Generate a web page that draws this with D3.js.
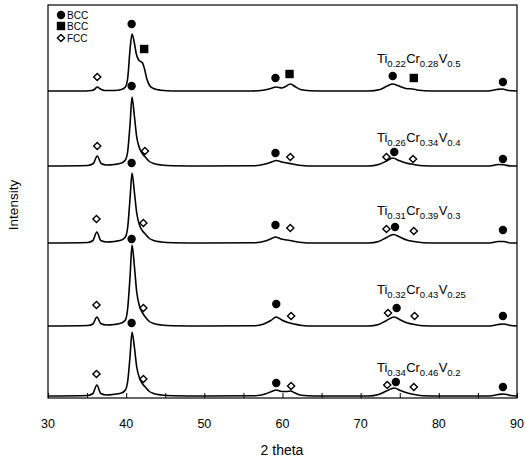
<!DOCTYPE html>
<html><head><meta charset="utf-8">
<script src="https://cdn.jsdelivr.net/npm/d3@7"></script>
<style>body{margin:0;background:#fff}svg{display:block}text{font-family:"Liberation Sans",Arial,sans-serif;fill:#000}</style>
</head><body>
<svg id="c" width="525" height="459"></svg>
<script>
// 2-theta tick labels
const xTicks = [30, 40, 50, 60, 70, 80, 90];
// vertical offsets of each pattern (arbitrary intensity units)
const offsets = [307, 232, 155, 72, 2];
// composition labels: [element, subscript] pairs
const labels = [
  [["Ti","0.22"],["Cr","0.28"],["V","0.5"]],
  [["Ti","0.26"],["Cr","0.34"],["V","0.4"]],
  [["Ti","0.31"],["Cr","0.39"],["V","0.3"]],
  [["Ti","0.32"],["Cr","0.43"],["V","0.25"]],
  [["Ti","0.34"],["Cr","0.46"],["V","0.2"]]
];
const labelLevel = [28, 24, 28, 32, 24]; // label baseline height above pattern baseline
// intensity patterns [2theta, intensity above baseline]
const pattern1 = [[30,0],[34,0],[35.6,0.5],[36.0,2],[36.3,4],[36.7,2],[37.2,0.5],[38.5,0.5],[39.4,1.5],[39.9,4],[40.2,13],[40.5,42],[40.75,57],[41.0,50],[41.3,37],[41.6,31],[41.85,29.5],[42.1,28],[42.35,22],[42.65,12],[43.0,5.5],[43.5,2.5],[44.4,0.8],[46,0],[56,0],[57.5,0.8],[58.5,2.5],[59.2,4],[59.9,3],[60.4,4.5],[61.0,7],[61.6,4.5],[62.3,1.5],[63.5,0.3],[66,0],[71,0],[72.5,1.5],[73.4,5],[74.1,7],[74.9,5],[75.8,2.5],[76.6,2],[77.4,0.8],[79,0],[86.3,0],[87.4,1.5],[88.1,2],[88.9,0.5],[90,0]];
const pattern2 = [[30,0],[35.1,0.5],[35.8,2.5],[36.3,10],[36.8,2.5],[37.5,1],[38.5,1.5],[39.4,3],[39.9,6],[40.2,15],[40.5,42],[40.75,69],[41.05,50],[41.35,29],[41.7,18],[42.1,12],[42.5,8.5],[42.9,5],[43.5,2.5],[44.5,1],[46,0.3],[50,0],[56.5,0.3],[57.8,2],[58.6,4],[59.2,5.5],[59.9,4],[60.6,3],[61.3,2],[62.5,0.5],[64,0],[71,0],[72.3,1.5],[73.3,5],[74.1,8],[74.9,5.5],[75.8,3],[76.8,1.5],[78,0.3],[80,0],[86.5,0],[87.6,1.5],[88.3,1.2],[89.2,0],[90,0]];
const pattern3 = [[30,0],[35.1,0.5],[35.75,2.5],[36.25,11],[36.75,2.5],[37.5,1],[38.5,1.5],[39.4,3],[39.9,6],[40.2,16],[40.5,45],[40.75,70],[41.05,51],[41.35,30],[41.7,18],[42.1,12],[42.5,8.5],[42.9,5],[43.5,2.5],[44.5,1],[46,0.3],[50,0],[56.5,0.3],[57.8,2],[58.6,4.5],[59.1,6],[59.8,4],[60.6,3],[61.3,2],[62.5,0.5],[64,0],[71,0],[72.3,1.5],[73.3,5.5],[74.2,8.5],[75,6],[75.9,3],[76.8,1.5],[78,0.3],[80,0],[86.5,0],[87.6,1.5],[88.3,1.5],[89.2,0],[90,0]];
const pattern4 = [[30,0],[35.1,0.5],[35.75,2],[36.25,9],[36.75,2.5],[37.5,1],[38.5,1.5],[39.4,3],[39.9,6],[40.2,18],[40.5,50],[40.75,81],[41.05,60],[41.35,34],[41.7,20],[42.1,13],[42.5,8.5],[42.9,5],[43.5,2.5],[44.5,1],[46,0.3],[50,0],[56.5,0.3],[57.6,2],[58.5,5.5],[59.2,9],[59.9,6],[60.7,3.5],[61.5,2],[62.5,0.5],[64,0],[71,0],[72.3,1.5],[73.3,5.5],[74.3,9],[75.1,6],[76,3],[76.9,1.5],[78,0.3],[80,0],[86.5,0],[87.6,1.5],[88.3,2],[89.2,0.5],[90,0]];
const pattern5 = [[30,0],[35.1,0.5],[35.75,2.5],[36.25,11],[36.75,2.5],[37.5,1],[38.3,1.5],[39.4,3],[39.9,6],[40.2,15],[40.5,40],[40.75,64],[41.05,49],[41.35,29],[41.7,18],[42.1,12],[42.5,8.5],[42.9,5],[43.5,2.5],[44.5,1],[46,0.3],[50,0],[56.5,0.3],[57.8,2],[58.6,4.5],[59.2,6],[59.9,4.5],[60.5,4.5],[61.0,5],[61.6,3],[62.4,0.8],[64,0],[71,0],[72.3,1.5],[73.3,5],[74.3,8],[75.1,5.5],[76,3],[76.9,1.5],[78,0.3],[80,0],[86.5,0],[87.6,1.5],[88.3,2],[89.2,0.5],[90,0]];
const patterns = [pattern1, pattern2, pattern3, pattern4, pattern5];
// phase markers [type, 2theta, height above baseline]
const markers1 = [["fcc",36.3,14],["bcc",40.7,67],["bcc2",42.3,42],["bcc",59.1,13],["bcc2",60.9,17],["bcc",74.1,15],["bcc2",76.8,13],["bcc",88.2,9]];
const markers2 = [["fcc",36.3,20],["bcc",40.7,80],["fcc",42.4,15],["bcc",59.1,13],["fcc",61.0,9],["fcc",73.3,9],["bcc",74.3,14],["fcc",76.7,7],["bcc",88.2,7]];
const markers3 = [["fcc",36.2,24],["bcc",40.7,80],["fcc",42.2,20],["bcc",59.1,18],["fcc",61.0,15],["fcc",73.3,14],["bcc",74.4,16],["fcc",76.8,12],["bcc",88.2,13]];
const markers4 = [["fcc",36.2,21],["bcc",40.7,87],["fcc",42.2,18],["bcc",59.2,22],["fcc",61.1,10],["fcc",73.5,13],["bcc",74.6,18],["fcc",76.9,10],["bcc",88.2,10]];
const markers5 = [["fcc",36.2,22],["bcc",40.7,73],["fcc",42.2,17],["bcc",59.2,13],["fcc",61.1,10],["fcc",73.4,11],["bcc",74.5,14],["fcc",76.8,9],["bcc",88.2,9]];
const markerSets = [markers1, markers2, markers3, markers4, markers5];
const legendItems = [["bcc","BCC"],["bcc2","BCC"],["fcc","FCC"]];

const svg = d3.select("#c");
const L = 48, R = 517, T = 5, B = 398;
const x = d3.scaleLinear().domain([30, 90]).range([L, R]);
const y = d3.scaleLinear().domain([0, B - T]).range([B, T]);

// frame
svg.append("rect").attr("x", L).attr("y", T).attr("width", R - L).attr("height", B - T)
  .attr("fill", "none").attr("stroke", "#000").attr("stroke-width", 1.2);

// bottom axis: ticks inward every 5, labels every 10
const ax = d3.axisBottom(x).tickValues(d3.range(30, 91, 5)).tickSize(-5).tickFormat("");
const g = svg.append("g").attr("transform", `translate(0,${B})`).call(ax);
g.select(".domain").remove();
g.selectAll("line").attr("stroke", "#000");
svg.append("g").selectAll("text").data(xTicks).join("text")
  .attr("x", d => x(d)).attr("y", 428).attr("text-anchor", "middle")
  .attr("font-size", 12.5).text(d => d);

svg.append("text").attr("x", 282).attr("y", 455).attr("text-anchor", "middle")
  .attr("font-size", 14).text("2 theta");
svg.append("text").attr("transform", "translate(18,205) rotate(-90)")
  .attr("text-anchor", "middle").attr("font-size", 13.5).text("Intensity");

const line = d3.line().x(d => x(d[0])).y(d => d[1]).curve(d3.curveMonotoneX);

function drawMarker(sel, type, cx, cy) {
  if (type === "bcc") sel.append("circle").attr("cx", cx).attr("cy", cy).attr("r", 4.2).attr("fill", "#000");
  else if (type === "bcc2") sel.append("rect").attr("x", cx - 4.2).attr("y", cy - 4.2).attr("width", 8.4).attr("height", 8.4).attr("fill", "#000");
  else sel.append("path").attr("d", `M${cx},${cy-3.6}L${cx+3.6},${cy}L${cx},${cy+3.6}L${cx-3.6},${cy}Z`)
    .attr("fill", "#fff").attr("stroke", "#000").attr("stroke-width", 1.4);
}

patterns.forEach((p, i) => {
  const off = offsets[i];
  svg.append("path").datum(p.map(d => [d[0], y(d[1] + off)]))
    .attr("d", line).attr("fill", "none").attr("stroke", "#000").attr("stroke-width", 1.6);
  const mg = svg.append("g");
  markerSets[i].forEach(m => drawMarker(mg, m[0], x(m[1]), y(off + m[2])));
  const t = svg.append("text").attr("x", 377).attr("y", y(off + labelLevel[i])).attr("font-size", 13);
  labels[i].forEach(([el, sub]) => {
    t.append("tspan").attr("dy", 0).text(el);
    t.append("tspan").attr("font-size", 9.5).attr("dy", 4).text(sub);
    t.append("tspan").attr("font-size", 1).attr("dy", -4).text(" ");
  });
});

// legend
legendItems.forEach((it, i) => {
  const cy = [15, 26, 38][i];
  drawMarker(svg, it[0], 61, cy);
  svg.append("text").attr("x", 67).attr("y", cy + 3.5).attr("font-size", 10).text(it[1]);
});
</script>
</body></html>
